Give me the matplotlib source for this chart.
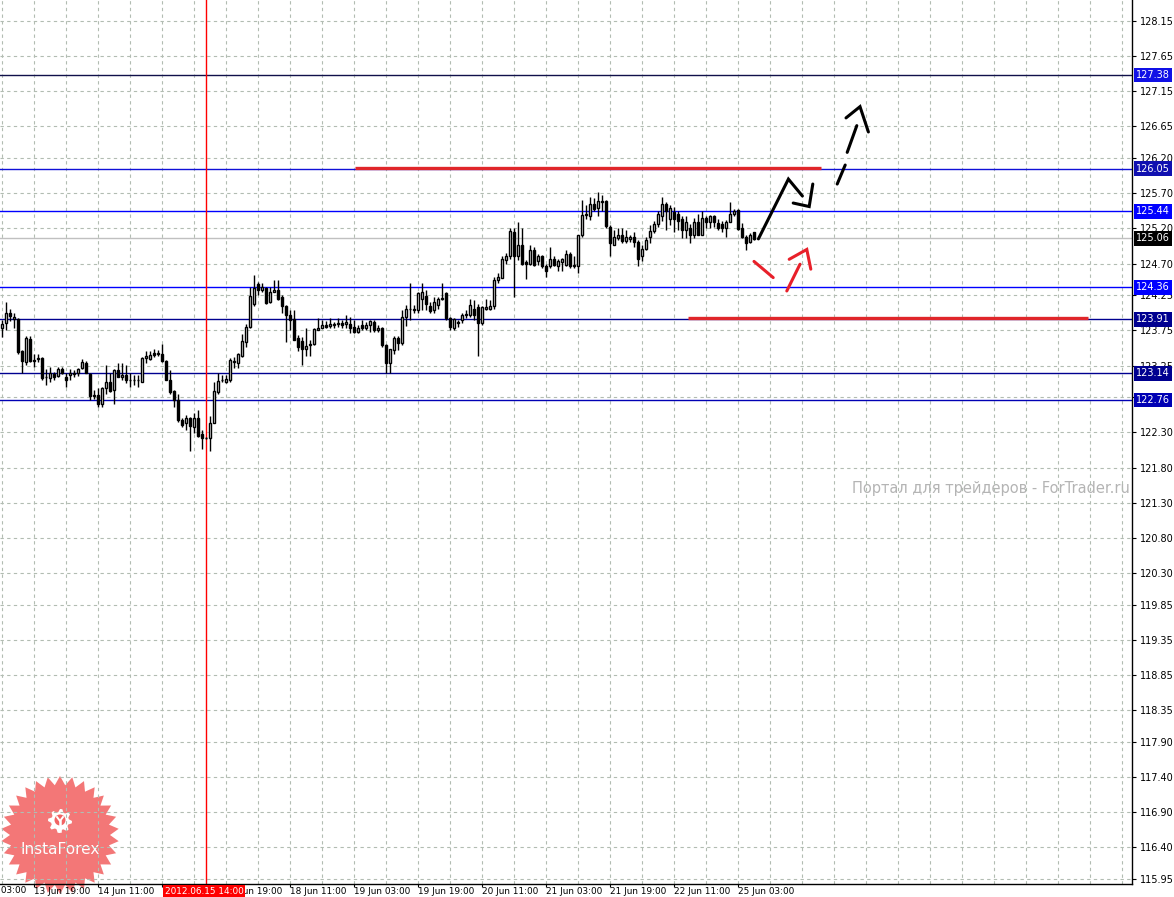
import matplotlib
matplotlib.use("Agg")
import matplotlib.pyplot as plt
import matplotlib.transforms as mtransforms
from matplotlib.patches import Polygon, Circle
import numpy as np

plt.rcParams['font.family'] = ['DejaVu Sans']

# ---------------- data (H1 bars, 13 Jun 11:00 .. 25 Jun 07:00) ----------------
opens = [123.78, 123.85, 124.00, 123.91, 123.91, 123.46, 123.30, 123.63, 123.33, 123.34,
         123.35, 123.09, 123.07, 123.13, 123.10, 123.20, 123.09, 123.12, 123.13, 123.14,
         123.22, 123.29, 123.13, 122.83, 122.83, 122.70, 122.93, 123.01, 122.90, 123.19,
         123.09, 123.11, 123.05, 123.04, 123.04, 123.01, 123.35, 123.34, 123.43, 123.41,
         123.41, 123.31, 123.04, 122.89, 122.76, 122.47, 122.44, 122.50, 122.38, 122.51,
         122.28, 122.22, 122.22, 122.44, 122.87, 123.04, 123.01, 123.04, 123.30, 123.29,
         123.39, 123.58, 123.80, 124.13, 124.41, 124.33, 124.35, 124.16, 124.30, 124.33,
         124.23, 124.10, 123.97, 123.91, 123.64, 123.60, 123.49, 123.55, 123.55, 123.76,
         123.79, 123.83, 123.81, 123.83, 123.84, 123.85, 123.84, 123.84, 123.80, 123.73,
         123.83, 123.79, 123.83, 123.87, 123.76, 123.79, 123.54, 123.28, 123.47, 123.64,
         123.57, 123.94, 124.06, 124.06, 124.04, 124.19, 124.24, 124.09, 124.04, 124.11,
         124.19, 124.28, 123.92, 123.78, 123.87, 123.90, 123.98, 123.97, 124.06, 124.08,
         123.85, 124.05, 124.06, 124.09, 124.47, 124.50, 124.75, 124.80, 125.15, 124.80,
         124.97, 124.72, 124.69, 124.89, 124.73, 124.80, 124.66, 124.66, 124.77, 124.67,
         124.72, 124.68, 124.83, 124.66, 124.67, 125.10, 125.39, 125.38, 125.54, 125.49,
         125.59, 125.59, 125.22, 124.97, 125.06, 125.11, 125.02, 125.05, 125.07, 125.01,
         124.80, 124.91, 125.07, 125.16, 125.26, 125.37, 125.54, 125.34, 125.43, 125.41,
         125.34, 125.18, 125.20, 125.11, 125.29, 125.11, 125.35, 125.29, 125.37, 125.27,
         125.26, 125.20, 125.29, 125.40, 125.46, 125.21, 125.08, 125.01, 125.15]
highs = [123.90, 124.16, 124.05, 124.00, 123.92, 123.47, 123.67, 123.67, 123.42, 123.41,
         123.37, 123.20, 123.23, 123.16, 123.23, 123.23, 123.14, 123.20, 123.19, 123.22,
         123.34, 123.31, 123.14, 122.90, 122.93, 122.95, 123.26, 123.14, 123.20, 123.29,
         123.28, 123.26, 123.15, 123.12, 123.12, 123.37, 123.46, 123.46, 123.48, 123.47,
         123.56, 123.33, 123.19, 122.90, 122.85, 122.50, 122.55, 122.52, 122.58, 122.62,
         122.33, 122.23, 122.53, 123.02, 123.14, 123.12, 123.12, 123.35, 123.37, 123.43,
         123.70, 123.84, 124.37, 124.54, 124.44, 124.42, 124.36, 124.36, 124.47, 124.47,
         124.25, 124.11, 124.04, 124.04, 123.68, 123.65, 123.78, 123.61, 123.78, 123.92,
         123.90, 123.89, 123.92, 123.87, 123.92, 123.90, 123.97, 123.94, 123.90, 123.83,
         123.90, 123.87, 123.90, 123.90, 123.82, 123.80, 123.56, 123.49, 123.67, 123.67,
         124.04, 124.11, 124.42, 124.11, 124.30, 124.42, 124.32, 124.16, 124.23, 124.23,
         124.42, 124.29, 123.94, 123.92, 123.90, 124.00, 124.04, 124.20, 124.18, 124.13,
         124.10, 124.20, 124.18, 124.51, 124.56, 124.80, 124.85, 125.21, 125.21, 125.29,
         125.20, 124.75, 124.96, 124.94, 124.83, 124.82, 124.70, 124.94, 124.80, 124.77,
         124.78, 124.89, 124.87, 124.80, 125.11, 125.60, 125.53, 125.65, 125.63, 125.72,
         125.67, 125.60, 125.25, 125.18, 125.20, 125.20, 125.18, 125.11, 125.15, 125.03,
         124.96, 125.08, 125.25, 125.30, 125.44, 125.64, 125.58, 125.53, 125.51, 125.44,
         125.37, 125.37, 125.26, 125.35, 125.41, 125.44, 125.37, 125.39, 125.39, 125.34,
         125.30, 125.32, 125.58, 125.47, 125.48, 125.27, 125.11, 125.13, 125.15]
lows = [123.66, 123.76, 123.89, 123.79, 123.42, 123.14, 123.26, 123.30, 123.23, 123.30,
        123.05, 122.97, 123.02, 123.04, 123.09, 123.13, 122.95, 123.04, 123.09, 123.10,
        123.20, 123.14, 122.76, 122.78, 122.66, 122.66, 122.85, 122.88, 122.71, 123.08,
        123.04, 123.00, 122.95, 122.97, 122.94, 123.01, 123.29, 123.33, 123.37, 123.39,
        123.30, 123.04, 122.85, 122.66, 122.45, 122.38, 122.33, 122.03, 122.29, 122.24,
        122.07, 122.21, 122.03, 122.43, 122.85, 123.02, 123.00, 123.02, 123.22, 123.21,
        123.37, 123.52, 123.78, 124.09, 124.25, 124.30, 124.13, 124.14, 124.29, 124.18,
        124.00, 123.59, 123.75, 123.61, 123.45, 123.26, 123.38, 123.38, 123.54, 123.75,
        123.78, 123.78, 123.78, 123.79, 123.80, 123.79, 123.78, 123.71, 123.71, 123.71,
        123.76, 123.76, 123.73, 123.73, 123.73, 123.52, 123.14, 123.14, 123.42, 123.47,
        123.54, 123.81, 123.90, 123.99, 123.99, 124.04, 124.04, 124.00, 124.00, 124.06,
        124.18, 123.90, 123.76, 123.76, 123.80, 123.85, 123.92, 123.94, 123.90, 123.39,
        123.83, 124.04, 124.04, 124.06, 124.42, 124.49, 124.70, 124.77, 124.23, 124.75,
        124.68, 124.48, 124.68, 124.66, 124.68, 124.63, 124.51, 124.63, 124.66, 124.59,
        124.59, 124.66, 124.63, 124.63, 124.56, 125.08, 125.34, 125.32, 125.44, 125.38,
        125.44, 125.21, 124.80, 124.96, 125.03, 124.99, 124.99, 125.01, 124.94, 124.66,
        124.73, 124.89, 124.99, 125.13, 125.22, 125.30, 125.18, 125.25, 125.15, 125.18,
        125.06, 125.06, 124.99, 125.06, 125.10, 125.10, 125.20, 125.20, 125.22, 125.18,
        125.15, 125.08, 125.29, 125.37, 125.18, 125.06, 124.89, 124.99, 125.03]
closes = [123.84, 124.00, 123.96, 123.94, 123.44, 123.32, 123.64, 123.32, 123.32, 123.35,
          123.07, 123.08, 123.14, 123.09, 123.20, 123.14, 123.05, 123.15, 123.14, 123.20,
          123.30, 123.15, 122.82, 122.82, 122.71, 122.93, 123.01, 122.89, 123.19, 123.09,
          123.11, 123.04, 123.04, 123.05, 123.04, 123.35, 123.38, 123.40, 123.40, 123.43,
          123.31, 123.05, 122.88, 122.76, 122.47, 122.40, 122.51, 122.39, 122.50, 122.25,
          122.22, 122.22, 122.43, 122.89, 123.03, 123.05, 123.06, 123.33, 123.31, 123.41,
          123.60, 123.80, 124.24, 124.35, 124.32, 124.37, 124.14, 124.30, 124.33, 124.19,
          124.09, 123.97, 123.90, 123.62, 123.52, 123.49, 123.53, 123.54, 123.77, 123.79,
          123.83, 123.80, 123.84, 123.83, 123.86, 123.83, 123.87, 123.79, 123.73, 123.79,
          123.78, 123.83, 123.89, 123.76, 123.79, 123.54, 123.28, 123.48, 123.64, 123.57,
          123.94, 124.06, 124.05, 124.04, 124.28, 124.29, 124.13, 124.02, 124.16, 124.19,
          124.21, 123.92, 123.80, 123.91, 123.85, 123.97, 123.97, 124.11, 123.97, 123.85,
          124.08, 124.08, 124.10, 124.47, 124.51, 124.76, 124.81, 125.16, 124.80, 124.97,
          124.69, 124.69, 124.89, 124.68, 124.81, 124.66, 124.59, 124.77, 124.68, 124.74,
          124.76, 124.83, 124.66, 124.68, 125.10, 125.39, 125.40, 125.54, 125.47, 125.59,
          125.57, 125.24, 124.99, 125.08, 125.10, 125.02, 125.07, 125.07, 125.00, 124.76,
          124.91, 125.03, 125.16, 125.26, 125.40, 125.54, 125.44, 125.49, 125.34, 125.30,
          125.18, 125.29, 125.10, 125.29, 125.11, 125.35, 125.29, 125.37, 125.29, 125.20,
          125.20, 125.29, 125.40, 125.44, 125.19, 125.08, 124.99, 125.11, 125.05]

time_labels = ["13 Jun 03:00", "13 Jun 19:00", "14 Jun 11:00", "15 Jun 03:00",
               "15 Jun 19:00", "18 Jun 11:00", "19 Jun 03:00", "19 Jun 19:00",
               "20 Jun 11:00", "21 Jun 03:00", "21 Jun 19:00", "22 Jun 11:00",
               "25 Jun 03:00"]
time_label_bars = [-8, 8, 24, 40, 56, 72, 88, 104, 120, 136, 152, 168, 184]

price_tick_labels = ["128.15", "127.65", "127.15", "126.65", "126.20", "125.70",
                     "125.20", "124.70", "124.25", "123.75", "123.25", "122.80",
                     "122.30", "121.80", "121.30", "120.80", "120.30", "119.85",
                     "119.35", "118.85", "118.35", "117.90", "117.40", "116.90",
                     "116.40", "115.95"]

level_prices = [127.38, 126.05, 125.44, 124.36, 123.91, 123.14, 122.76]
level_line_colors = ["#10104a", "#1010d8", "#0000ff", "#0000ff", "#000090", "#000090", "#0000b4"]
level_box_colors = ["#1010e6", "#1010b0", "#0000ff", "#0000ff", "#000090", "#000090", "#0000b4"]
current_price = 125.06
marker_bar = 51
marker_label = "2012.06.15 14:00"

resistance_price, resistance_from, resistance_to = 126.06, 88.25, 204.75
support_price, support_from, support_to = 123.925, 171.5, 271.5

# hand-drawn forecast strokes (bar index, price)
black_solid = [(189.1, 125.05), (196.6, 125.90), (200.1, 125.66)]
black_solid_head = [(197.8, 125.56), (201.8, 125.51), (202.7, 125.83)]
black_dash_1 = [(208.8, 125.83), (210.8, 126.10)]
black_dash_2 = [(211.3, 126.28), (213.7, 126.66)]
black_dash_head = [(211.0, 126.77), (214.5, 126.93), (216.6, 126.57)]
red_solid = [(188.0, 124.73), (192.8, 124.50)]
red_shaft = [(196.2, 124.31), (199.5, 124.69)]
red_head = [(196.8, 124.76), (201.2, 124.90), (202.2, 124.62)]

watermark = "Портал для трейдеров - ForTrader.ru"
logo_text = "InstaForex"

# ---------------- figure ----------------
W, H = 1174, 897
fig = plt.figure(figsize=(W / 100, H / 100), dpi=100, facecolor="white")

bg = fig.add_axes([0, 0, 1, 1])
bg.set_xlim(0, W)
bg.set_ylim(H, 0)
bg.axis("off")
bg.set_zorder(0)

ax_right_px, ax_bottom_px = 1132, 884
ax = fig.add_axes([0, (H - ax_bottom_px) / H, ax_right_px / W, ax_bottom_px / H])
ax.set_zorder(1)
ax.patch.set_alpha(0)

ax.set_xlim(-0.5, 282.5)
ax.set_ylim(115.880, 128.446)

grid_col = "#b2bcb2"
ytick_vals = [float(s) for s in price_tick_labels]
for yv in ytick_vals:
    ax.axhline(yv, color=grid_col, lw=0.8, dashes=(3, 3), zorder=0.5)
for xv in range(0, 283, 8):
    ax.axvline(xv, color=grid_col, lw=0.8, dashes=(3, 3), zorder=0.5)

# price levels
ax.axhline(current_price, color="#c0c0c0", lw=1, zorder=1)
for p, c in zip(level_prices, level_line_colors):
    ax.axhline(p, color=c, lw=1, zorder=1.2)

# marker line
ax.axvline(marker_bar, color="red", lw=1, zorder=1.3)

# candles
o = np.array(opens); h = np.array(highs); l = np.array(lows); c = np.array(closes)
x = np.arange(len(o))
ax.vlines(x, l, h, color="black", lw=1, zorder=3)
bottoms = np.minimum(o, c)
heights = np.maximum(np.abs(c - o), 0.004)
cols = ["white" if cc >= oo else "black" for oo, cc in zip(o, c)]
ax.bar(x, heights, bottom=bottoms, width=0.6, color=cols, edgecolor="black",
       linewidth=1.0, zorder=4)

# red horizontal zones
ax.hlines(resistance_price, resistance_from, resistance_to, color="#e0262a", lw=2.4, zorder=5)
ax.hlines(support_price, support_from, support_to, color="#e0262a", lw=2.4, zorder=5)

def stroke(pts, color):
    xs, ys = zip(*pts)
    ax.plot(xs, ys, color=color, lw=2.2, solid_capstyle="round",
            solid_joinstyle="miter", zorder=6)

stroke(black_solid, "black")
stroke(black_solid_head, "black")
stroke(black_dash_1, "black")
stroke(black_dash_2, "black")
stroke(black_dash_head, "black")
stroke(red_solid, "#e8202a")
stroke(red_shaft, "#e8202a")
stroke(red_head, "#e8202a")

# spines
for s in ["left", "top"]:
    ax.spines[s].set_visible(False)
for s in ["right", "bottom"]:
    ax.spines[s].set_color("black")
    ax.spines[s].set_linewidth(1)

# y axis on the right (the label hidden under a level box is left blank)
shown_labels = [("" if any(abs(float(s) - p) < 0.06 for p in level_prices) else s)
                for s in price_tick_labels]
ax.yaxis.tick_right()
ax.set_yticks(ytick_vals)
ax.set_yticklabels(shown_labels)
ax.tick_params(axis="y", direction="out", length=3, width=0.8, pad=3,
               labelsize=7, colors="black")

# x axis
ax.set_xticks(time_label_bars[1:])
ax.set_xticklabels(time_labels[1:], ha="left")
ax.tick_params(axis="x", direction="out", length=2, width=0.8, pad=0, labelsize=6.4)
xtrans = mtransforms.blended_transform_factory(ax.transData, ax.transAxes)
ax.text(time_label_bars[0], -2 / ax_bottom_px, time_labels[0], transform=xtrans,
        ha="left", va="top", fontsize=6.4, clip_on=False)

# marker label on x axis
ax.text(marker_bar - 0.5, -7.5 / ax_bottom_px, marker_label, transform=xtrans,
        ha="center", va="center", fontsize=6.4, color="white", clip_on=False, zorder=10,
        bbox=dict(boxstyle="square,pad=0.2", fc="#ff0000", ec="none"))

# price boxes on y axis
ytrans = mtransforms.blended_transform_factory(ax.transAxes, ax.transData)
for p, bc in zip(level_prices, level_box_colors):
    ax.text(1.0 + 4 / ax_right_px, p, f"{p:.2f}", transform=ytrans, ha="left",
            va="center", fontsize=7, color="white", clip_on=False, zorder=10,
            bbox=dict(boxstyle="square,pad=0.25", fc=bc, ec="none"))
ax.text(1.0 + 4 / ax_right_px, current_price, f"{current_price:.2f}", transform=ytrans,
        ha="left", va="center", fontsize=7, color="white", clip_on=False, zorder=10,
        bbox=dict(boxstyle="square,pad=0.25", fc="black", ec="none"))

# watermark
bg.text(1130, 488, watermark, ha="right", va="center", color="#b4b4b4", fontsize=10.5)

# InstaForex badge
cx, cy = 60, 835
n_teeth = 30
ang = np.linspace(0, 2 * np.pi, 2 * n_teeth, endpoint=False) - np.pi / 2
rad = np.where(np.arange(2 * n_teeth) % 2 == 0, 59, 50)
star = np.column_stack([cx + rad * np.cos(ang), cy + rad * np.sin(ang)])
bg.add_patch(Polygon(star, closed=True, fc="#f26464", ec="none", alpha=0.88))
gx, gy = 60, 821
g_ang = np.linspace(0, 2 * np.pi, 32, endpoint=False)
g_rad = np.where((np.arange(32) // 2) % 2 == 0, 12, 9)
gear = np.column_stack([gx + g_rad * np.cos(g_ang), gy + g_rad * np.sin(g_ang)])
bg.add_patch(Polygon(gear, closed=True, fc="white", ec="none"))
bg.add_patch(Circle((gx, gy - 1), 5.5, fc="#f26464", ec="none"))
bg.plot([gx - 3, gx, gx + 3], [gy - 4, gy, gy - 4], color="white", lw=1.4)
bg.plot([gx, gx], [gy, gy + 10], color="white", lw=1.8)
bg.text(cx, 850, logo_text, ha="center", va="center", color="white", fontsize=11)

fig.savefig("out.png", dpi=100, facecolor="white")
